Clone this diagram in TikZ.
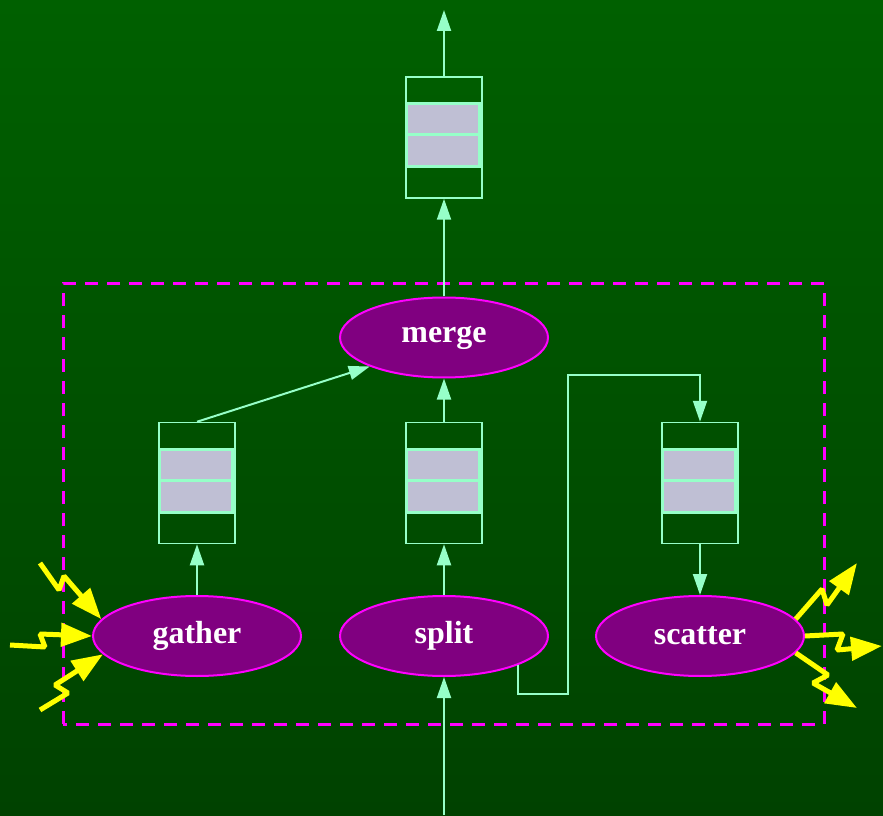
\documentclass[tikz,border=0pt]{standalone}
\usepackage{fontspec}
\setmainfont{Liberation Serif}
\usepackage{xcolor}
\usepackage{tikz}
\usetikzlibrary{shapes.geometric,positioning,calc,arrows.meta}

\definecolor{bgtop}{RGB}{0,96,0}
\definecolor{bgbot}{RGB}{0,66,0}
\definecolor{wire}{RGB}{150,255,200}
\definecolor{cellfill}{RGB}{191,191,212}
\definecolor{procfill}{RGB}{128,0,128}
\definecolor{edge}{RGB}{255,0,255}
\definecolor{spark}{RGB}{255,255,0}

\tikzset{
  proc/.style={ellipse,draw=edge,fill=procfill,line width=2pt,
    minimum width=208pt,minimum height=80pt,inner sep=0pt,
    text=white,font=\fontsize{32}{36}\selectfont\bfseries},
  queue/.style={rectangle,draw=wire,line width=1.5pt,
    minimum width=76pt,minimum height=121pt,inner sep=0pt},
  cell/.style={draw=wire,fill=cellfill,line width=3pt},
  flow/.style={draw=wire,line width=2pt,-{Triangle[length=21pt,width=14pt]}},
  bolt/.style={draw=spark,line width=5pt,line join=bevel,
    -{Triangle[length=31pt,width=23pt]}},
}

\begin{document}
\begin{tikzpicture}[x=1pt,y=1pt]
        % Background
        \shade[top color=bgtop,bottom color=bgbot] (0,0) rectangle (883,815);
        \useasboundingbox (0,0) rectangle (883,815);

        % Boundary
        \draw[edge,line width=3pt,dash pattern=on 13pt off 9pt] (63,91) rectangle (824,531);

        % Processes
        \node[proc] (merge) at (444,477.5) {merge};
        \node[proc] (gather) at (197,179) {gather};
        \node[proc] (split) at (444,179) {split};
        \node[proc] (scatter) at (700,179) {scatter};

        % Queues
        \node[queue] (qtop) at (444,677.5) {};
        \node[queue] (qleft) at (197,332) {};
        \node[queue] (qmid) at (444,332) {};
        \node[queue] (qright) at (700,332) {};
        \foreach \q in {qtop,qleft,qmid,qright} {
          \draw[cell] ($(\q.center)+(-38,2.5)$) rectangle ++(73,31);
          \draw[cell] ($(\q.center)+(-38,-29.5)$) rectangle ++(73,32);
        }

        % Flows
        \coordinate (out) at (444,805);
        \coordinate (in) at (444,0);
        \coordinate (bend) at (568,440);
        \draw[flow] (qtop.north) -- (out);
        \draw[flow] (merge.north) -- (qtop.south);
        \draw[flow] (qleft.north) -- (merge.south west);
        \draw[flow] (qmid.north) -- (merge.south);
        \draw[flow] (gather.north) -- (qleft.south);
        \draw[flow] (split.north) -- (qmid.south);
        \draw[flow] (qright.south) -- (scatter.north);
        \draw[flow] (in) -- (split.south);
        \draw[flow] (split.south east) -- ++(0,-29) -| (bend) -| (qright.north);

        % Events in
        \draw[bolt] (40,252) -- (59,225) -- (64,239) -- (gather.170);
        \draw[bolt] (10,170) -- (45,168) -- (40,181) -- (gather.west);
        \draw[bolt] (40,105) -- (68,122) -- (55,130) -- (gather.191);

        % Events out
        \draw[bolt] (scatter.10) -- (822,226) -- (827,210) -- (857,252);
        \draw[bolt] (scatter.east) -- (843,181) -- (837,165) -- (882,169);
        \draw[bolt] (scatter.-10) -- (828,140) -- (813,132) -- (857,107);
    \end{tikzpicture}
\end{document}
